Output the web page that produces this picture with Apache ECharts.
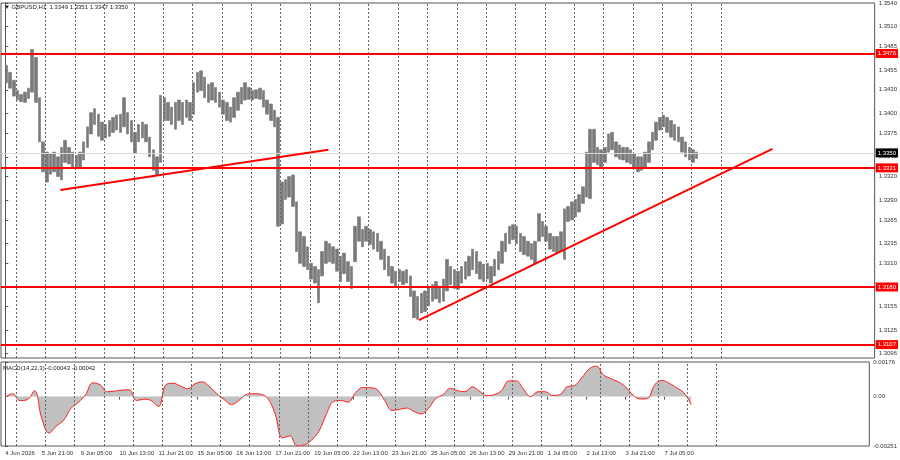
<!DOCTYPE html>
<html>
<head>
<meta charset="utf-8">
<script src="https://cdn.jsdelivr.net/npm/echarts@6/dist/echarts.min.js"></script>
<style>
html, body { margin: 0; padding: 0; background: #fff; }
#container { width: 900px; height: 460px; }
</style>
</head>
<body>
<div id="container"></div>
<script>
// GBPUSD H1 in 3-hour blocks (high / low of each block)
const highs = [
  1.3461, 1.3452, 1.3442, 1.3429, 1.3424, 1.3427, 1.3432, 1.3481, 1.3471, 1.3420,
  1.3364, 1.3351, 1.3349, 1.3351, 1.3345, 1.3357, 1.3366, 1.3357, 1.3351, 1.3347,
  1.3351, 1.3364, 1.3383, 1.3401, 1.3406, 1.3399, 1.3389, 1.3386, 1.3391, 1.3395,
  1.3398, 1.3399, 1.3420, 1.3401, 1.3391, 1.3376, 1.3386, 1.3389, 1.3386, 1.3370,
  1.3354, 1.3345, 1.3423, 1.3420, 1.3414, 1.3408, 1.3414, 1.3417, 1.3414, 1.3417,
  1.3414, 1.3439, 1.3452, 1.3454, 1.3446, 1.3437, 1.3439, 1.3433, 1.3427, 1.3417,
  1.3414, 1.3408, 1.3420, 1.3427, 1.3433, 1.3439, 1.3433, 1.3429, 1.3430, 1.3432,
  1.3429, 1.3417, 1.3412, 1.3404, 1.3395, 1.3313, 1.3316, 1.3320, 1.3322, 1.3288,
  1.3250, 1.3244, 1.3231, 1.3210, 1.3206, 1.3202, 1.3225, 1.3238, 1.3235, 1.3231,
  1.3228, 1.3219, 1.3223, 1.3212, 1.3206, 1.3257, 1.3269, 1.3253, 1.3257, 1.3253,
  1.3250, 1.3248, 1.3238, 1.3228, 1.3219, 1.3206, 1.3200, 1.3202, 1.3200, 1.3202,
  1.3194, 1.3175, 1.3168, 1.3172, 1.3175, 1.3181, 1.3183, 1.3187, 1.3181, 1.3190,
  1.3215, 1.3206, 1.3202, 1.3200, 1.3206, 1.3212, 1.3219, 1.3228, 1.3225, 1.3212,
  1.3209, 1.3210, 1.3206, 1.3215, 1.3225, 1.3238, 1.3248, 1.3257, 1.3259, 1.3257,
  1.3248, 1.3244, 1.3238, 1.3235, 1.3238, 1.3273, 1.3263, 1.3257, 1.3248, 1.3244,
  1.3244, 1.3250, 1.3279, 1.3282, 1.3288, 1.3291, 1.3297, 1.3307, 1.3351, 1.3380,
  1.3380, 1.3357, 1.3354, 1.3357, 1.3374, 1.3376, 1.3364, 1.3360, 1.3357, 1.3357,
  1.3354, 1.3349, 1.3345, 1.3345, 1.3351, 1.3364, 1.3376, 1.3389, 1.3395, 1.3398,
  1.3395, 1.3391, 1.3386, 1.3383, 1.3370, 1.3364, 1.3357, 1.3354, 1.3351
]
const lows = [
  1.3439, 1.3432, 1.3422, 1.3417, 1.3415, 1.3414, 1.3419, 1.3427, 1.3414, 1.3364,
  1.3326, 1.3313, 1.3323, 1.3326, 1.3320, 1.3316, 1.3338, 1.3336, 1.3332, 1.3331,
  1.3332, 1.3341, 1.3357, 1.3374, 1.3386, 1.3371, 1.3366, 1.3369, 1.3371, 1.3376,
  1.3379, 1.3376, 1.3383, 1.3374, 1.3364, 1.3349, 1.3364, 1.3369, 1.3364, 1.3345,
  1.3328, 1.3322, 1.3338, 1.3391, 1.3391, 1.3386, 1.3380, 1.3391, 1.3386, 1.3395,
  1.3391, 1.3399, 1.3427, 1.3429, 1.3420, 1.3414, 1.3417, 1.3414, 1.3408, 1.3399,
  1.3391, 1.3389, 1.3395, 1.3404, 1.3412, 1.3417, 1.3418, 1.3417, 1.3419, 1.3418,
  1.3408, 1.3399, 1.3391, 1.3383, 1.3257, 1.3260, 1.3291, 1.3294, 1.3282, 1.3225,
  1.3210, 1.3206, 1.3202, 1.3190, 1.3185, 1.3160, 1.3194, 1.3210, 1.3212, 1.3210,
  1.3200, 1.3187, 1.3197, 1.3187, 1.3178, 1.3212, 1.3238, 1.3231, 1.3238, 1.3234,
  1.3228, 1.3225, 1.3215, 1.3202, 1.3194, 1.3185, 1.3181, 1.3187, 1.3183, 1.3185,
  1.3168, 1.3141, 1.3139, 1.3147, 1.3149, 1.3156, 1.3162, 1.3165, 1.3160, 1.3162,
  1.3175, 1.3183, 1.3178, 1.3177, 1.3185, 1.3190, 1.3194, 1.3202, 1.3197, 1.3190,
  1.3187, 1.3190, 1.3185, 1.3194, 1.3202, 1.3210, 1.3225, 1.3235, 1.3240, 1.3235,
  1.3225, 1.3221, 1.3219, 1.3215, 1.3210, 1.3238, 1.3244, 1.3238, 1.3228, 1.3225,
  1.3223, 1.3225, 1.3215, 1.3263, 1.3265, 1.3269, 1.3275, 1.3286, 1.3294, 1.3292,
  1.3338, 1.3335, 1.3332, 1.3338, 1.3351, 1.3354, 1.3345, 1.3342, 1.3341, 1.3338,
  1.3336, 1.3331, 1.3326, 1.3328, 1.3332, 1.3338, 1.3354, 1.3366, 1.3379, 1.3383,
  1.3376, 1.3370, 1.3366, 1.3364, 1.3351, 1.3345, 1.3341, 1.3338, 1.3343
]

// MACD(14,22,3) main line, one value every 6 hours
const macd = [
  -0.00004, 0.00015, -0.0002, -0.00016, 0.0003, -0.0011, -0.00185, -0.0015, -0.0012, -0.0006,
  -0.0003, 0.0001, 0.0007, 0.0006, 0.00025, 0.00028, 0.00033, 0.00035, -0.0002, -0.00013,
  -0.0002, -0.0005, 0.0006, 0.00068, 0.00054, 0.0004, 0.00065, 0.00075, 0.0005, 0.00015,
  -0.00015, -0.0004, -0.0002, 0.0001, 0.00015, 0.00012, -0.0001, -0.0009, -0.0021, -0.002,
  -0.0025, -0.00245, -0.0022, -0.00175, -0.0009, -0.00025, -0.0002, -0.00028, 0.0002, 0.00046,
  0.00045, 0.00035, -0.0002, -0.0007, -0.00065, -0.00058, -0.00075, -0.00088, -0.0006, -0.0001,
  0.0001, 0.00042, 0.0003, 0.00025, 0.0005, 0.00028, 0.00005, 0.0001, 0.0003, 0.0008,
  0.0008, 0.0004, 0.0, 0.00025, 0.00025, 0.00006, 0.0001, 0.0005, 0.00056, 0.00095,
  0.0014, 0.00155, 0.0011, 0.00092, 0.00075, 0.0005, 0.0001, -0.00012, -0.0001, 0.0006,
  0.00082, 0.00068, 0.00045, 0.0002, -0.0004
]

// horizontal levels and trend lines (hour index, price)
const levels = [1.3476, 1.3331, 1.3180, 1.3107]
const bidPrice = 1.3350
const trendA = [[45, 1.3303], [264, 1.3354]]
const trendB = [[338, 1.3138], [627, 1.3355]]

// axes: hour index 0 = 4 Jun 15:00
const priceTicks = [1.3540, 1.3510, 1.3485, 1.3455, 1.3430, 1.3400, 1.3375, 1.3345, 1.3320,
  1.3290, 1.3265, 1.3235, 1.3210, 1.3180, 1.3155, 1.3125, 1.3096]
const macdTicks = [0.00176, 0, -0.00251]
const timeLabelHours = [0, 30, 62, 94, 126, 158, 190, 222, 254, 286, 318, 350, 382, 414, 446, 478, 510, 542]
const timeLabels = ['4 Jun 2026', '5 Jun 21:00', '9 Jun 05:00', '10 Jun 13:00', '11 Jun 21:00',
  '15 Jun 05:00', '16 Jun 13:00', '17 Jun 21:00', '19 Jun 05:00', '22 Jun 13:00', '23 Jun 21:00',
  '25 Jun 05:00', '26 Jun 13:00', '29 Jun 21:00', '1 Jul 05:00', '2 Jul 13:00', '3 Jul 21:00', '7 Jul 05:00']
const dayBreaks = [9, 33, 57, 81, 105, 129, 153, 177, 201, 225, 249, 273, 297, 321, 345, 369,
  393, 417, 441, 465, 489, 513, 537, 561, 585]

const FONT = 'Liberation Sans'
const FS = 6

const candles = highs.map((h, i) => [i * 3 + 1, lows[i], h, lows[i], h])
const macdData = macd.map((v, i) => [i * 6, v])

const dayLines = dayBreaks.map(h => ({ xAxis: h }))

const tagLabel = (text, bg) => ({
  show: true, position: 'end', distance: 1, formatter: text,
  backgroundColor: bg, color: '#fff', fontSize: FS, fontFamily: FONT,
  padding: [2, 2, 1, 2]
})

const levelLines = levels.map(v => ({
  yAxis: v,
  lineStyle: { color: '#ff0000', width: 2, type: 'solid' },
  label: tagLabel(v.toFixed(4), '#ff0000')
}))

const bidLine = {
  yAxis: bidPrice,
  lineStyle: { color: '#d9d9d9', width: 1, type: 'solid' },
  label: tagLabel(bidPrice.toFixed(4), '#000')
}

const myChart = echarts.init(document.getElementById('container'))

const option = {
  animation: false,
  backgroundColor: '#fff',
  textStyle: { fontFamily: FONT },
  title: [
    {
      text: '▼ GBPUSD,H1: 1.3349 1.3351 1.3347 1.3350',
      left: 4, top: 4, padding: 0,
      textStyle: { fontSize: FS, fontWeight: 'normal', color: '#222', fontFamily: FONT }
    },
    {
      text: 'MACD(14,22,3) -0.00043 -0.00042',
      left: 3, top: 365, padding: 0,
      textStyle: { fontSize: FS, fontWeight: 'normal', color: '#222', fontFamily: FONT }
    }
  ],
  grid: [
    { left: 1, top: 1, width: 874, height: 357, show: true, borderColor: '#555', borderWidth: 1 },
    { left: 1, top: 362, width: 874, height: 84, show: true, borderColor: '#555', borderWidth: 1 }
  ],
  xAxis: [
    {
      type: 'value', gridIndex: 0, min: -3.5, max: 710.5,
      axisLine: { show: false }, axisTick: { show: false }, axisLabel: { show: false },
      splitLine: { show: false }
    },
    {
      type: 'value', gridIndex: 1, min: -3.5, max: 710.5,
      axisLine: { show: false },
      axisTick: { show: true, customValues: timeLabelHours, length: 3, lineStyle: { color: '#555' } },
      axisLabel: {
        customValues: timeLabelHours,
        formatter: v => timeLabels[timeLabelHours.indexOf(v)] || '',
        align: 'left', fontSize: FS, color: '#333', margin: 4, fontFamily: FONT
      },
      splitLine: { show: false }
    }
  ],
  yAxis: [
    {
      type: 'value', gridIndex: 0, position: 'right', min: 1.3090, max: 1.3540,
      axisLine: { show: true, lineStyle: { color: '#555' } },
      axisTick: { show: true, customValues: priceTicks, length: 3, lineStyle: { color: '#555' } },
      axisLabel: {
        customValues: priceTicks, formatter: v => v.toFixed(4),
        fontSize: FS, color: '#333', margin: 4, fontFamily: FONT
      },
      splitLine: { show: false }
    },
    {
      type: 'value', gridIndex: 1, position: 'right', min: -0.00251, max: 0.00176,
      axisLine: { show: true, lineStyle: { color: '#555' } },
      axisTick: { show: true, customValues: macdTicks, length: 3, lineStyle: { color: '#555' } },
      axisLabel: {
        customValues: macdTicks, formatter: v => (v === 0 ? '0.00' : v.toFixed(5)),
        fontSize: FS, color: '#333', margin: 4, fontFamily: FONT
      },
      splitLine: { show: false }
    }
  ],
  series: [
    {
      name: 'GBPUSD',
      type: 'candlestick',
      xAxisIndex: 0, yAxisIndex: 0,
      encode: { x: 0, y: [1, 2, 3, 4] },
      barWidth: 3,
      itemStyle: {
        color: '#7a7a7a', color0: '#7a7a7a',
        borderColor: '#767676', borderColor0: '#767676', borderWidth: 0.6
      },
      data: candles,
      markLine: {
        silent: true,
        symbol: ['none', 'none'],
        lineStyle: { color: '#666', width: 1, type: [2, 2] },
        label: { show: false },
        data: dayLines
      }
    },
    {
      name: 'trend A',
      type: 'line',
      xAxisIndex: 0, yAxisIndex: 0,
      symbol: 'none',
      lineStyle: { color: '#ff0000', width: 2 },
      data: trendA,
      z: 5,
      markLine: {
        silent: true,
        precision: 5,
        symbol: ['none', 'none'],
        label: { show: false },
        data: [bidLine].concat(levelLines)
      }
    },
    {
      name: 'trend B',
      type: 'line',
      xAxisIndex: 0, yAxisIndex: 0,
      symbol: 'none',
      lineStyle: { color: '#ff0000', width: 2 },
      data: trendB,
      z: 5
    },
    {
      name: 'MACD',
      type: 'line',
      xAxisIndex: 1, yAxisIndex: 1,
      symbol: 'none',
      smooth: 0.4,
      lineStyle: { color: '#ff2020', width: 1 },
      areaStyle: { color: '#c0c0c0', opacity: 1 },
      data: macdData,
      markLine: {
        silent: true,
        symbol: ['none', 'none'],
        lineStyle: { color: '#666', width: 1, type: [2, 2] },
        label: { show: false },
        data: dayLines
      }
    }
  ]
}

myChart.setOption(option)
</script>
</body>
</html>
